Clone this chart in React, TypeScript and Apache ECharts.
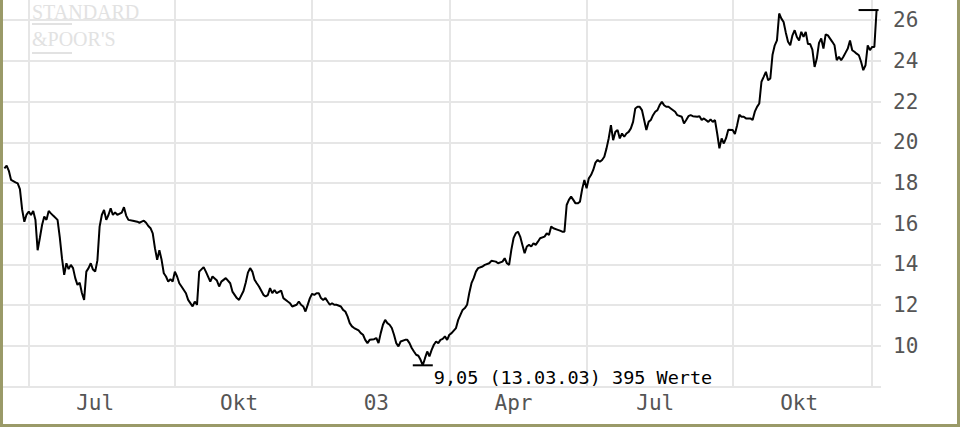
import React, { useEffect, useRef } from 'react';
import * as echarts from 'echarts';

// Trading-day position of each traced vertex (0 = first of the 395 values)
const dayIndex = [
  0, 1, 2, 3, 5, 6, 7, 8, 9, 10, 11, 12, 13, 14, 15, 16, 17, 18, 19, 20, 21, 22, 24, 25, 26, 27, 28, 29, 30,
  31, 32, 33, 34, 35, 36, 37, 38, 39, 40, 41, 42, 43, 44, 45, 46, 47, 48, 49, 50, 51, 53, 54, 55, 56, 58, 60,
  61, 62, 63, 64, 65, 66, 67, 68, 69, 70, 71, 72, 73, 74, 75, 76, 77, 78, 79, 80, 82, 83, 84, 85, 86, 87, 88,
  90, 91, 93, 94, 96, 97, 98, 100, 102, 103, 105, 106, 108, 109, 110, 111, 112, 113, 114, 115, 117, 118, 119,
  120, 121, 122, 123, 125, 126, 128, 129, 130, 132, 133, 134, 135, 136, 137, 138, 139, 140, 141, 142, 143, 144,
  145, 146, 147, 148, 149, 150, 152, 153, 154, 155, 156, 157, 158, 160, 161, 162, 163, 164, 165, 167, 168, 169,
  170, 171, 172, 173, 174, 175, 176, 177, 178, 179, 181, 182, 183, 184, 185, 186, 187, 188, 189, 190, 191, 192,
  193, 194, 195, 196, 197, 198, 199, 200, 201, 202, 204, 205, 206, 207, 208, 209, 210, 211, 212, 213, 214, 216,
  217, 219, 220, 222, 223, 225, 226, 227, 228, 229, 230, 231, 232, 233, 234, 235, 236, 237, 238, 239, 240, 241,
  242, 244, 245, 246, 247, 248, 250, 251, 252, 253, 254, 255, 256, 257, 258, 259, 260, 261, 262, 263, 264, 265,
  266, 267, 268, 269, 270, 271, 272, 273, 274, 275, 276, 277, 278, 279, 280, 281, 282, 283, 284, 285, 286, 287,
  288, 289, 290, 291, 292, 293, 294, 295, 296, 297, 298, 299, 300, 301, 303, 304, 306, 307, 308, 309, 310, 311,
  313, 314, 315, 316, 318, 319, 320, 321, 322, 323, 324, 325, 326, 327, 329, 330, 331, 332, 333, 334, 335, 337,
  338, 339, 340, 341, 342, 343, 344, 345, 346, 347, 348, 349, 350, 351, 352, 353, 354, 355, 356, 357, 358, 359,
  360, 361, 362, 363, 364, 365, 366, 367, 368, 369, 370, 371, 372, 373, 374, 375, 376, 377, 378, 379, 380, 381,
  382, 383, 384, 385, 386, 387, 388, 389, 390, 391, 392, 393, 394,
];

const closePrice = [
  18.72, 18.85, 18.6, 18.15, 18.03, 17.98, 17.7, 16.7, 16.1, 16.45, 16.6, 16.43, 16.63, 16.2, 14.7, 15.3, 15.94,
  16.35, 16.19, 16.63, 16.51, 16.4, 16.19, 15.34, 14.31, 13.49, 14.06, 13.77, 13.98,
  13.82, 13.33, 13.0, 13.11, 12.6, 12.26, 13.65, 13.82, 14.06, 13.75, 13.65, 14.2, 15.86, 16.43, 16.68, 16.19,
  16.43, 16.76, 16.43, 16.56, 16.43, 16.55, 16.81, 16.4, 16.19, 16.15, 16.1,
  16.05, 16.1, 16.15, 16.05, 15.89, 15.78, 15.53, 14.8, 14.23, 14.7, 14.23, 13.57, 13.41, 13.16, 13.28, 13.16,
  13.65, 13.41, 13.08, 12.92, 12.59, 12.26, 12.1, 11.94, 12.18, 12.02, 13.65,
  13.87, 13.65, 13.16, 13.41, 13.21, 12.92, 13.16, 13.33, 13.08, 12.67, 12.35, 12.26, 12.7, 13.1, 13.6, 13.82,
  13.65, 13.25, 13.08, 12.92, 12.51, 12.43, 12.5,
  12.84, 12.59, 12.75, 12.59, 12.72, 12.35, 12.18, 12.1, 11.94, 12.02, 12.18, 12.02, 11.94, 11.69, 12.02, 12.35,
  12.56, 12.51, 12.59, 12.59, 12.35, 12.26,
  12.35, 12.18, 12.02, 12.1, 12.02, 12.02, 11.94, 11.77, 11.69, 11.45, 11.12, 10.96, 10.88, 10.76, 10.63, 10.55,
  10.3, 10.14, 10.3, 10.33, 10.39, 10.14,
  10.63, 11.04, 11.28, 11.12, 11.04, 10.88, 10.55, 10.14, 9.98, 10.22, 10.3, 10.3, 10.14, 9.9, 9.73, 9.57, 9.52,
  9.32, 9.05, 9.4, 9.73, 9.49,
  9.81, 10.06, 10.22, 10.14, 10.3, 10.35, 10.47, 10.3, 10.55, 10.63, 10.88, 11.28, 11.53, 11.77, 11.86, 12.02,
  12.6, 13.08, 13.33, 13.65, 13.82, 13.9,
  13.98, 14.06, 14.18, 14.14, 14.06, 14.14, 14.31, 14.06, 13.98, 14.72, 15.29, 15.53, 15.61, 15.37, 14.96, 14.55,
  14.88, 14.96, 14.88, 15.04, 14.96, 15.12,
  15.29, 15.37, 15.53, 15.45, 15.86, 15.78, 15.7, 15.66, 15.61, 15.61, 16.92, 17.17, 17.33, 17.17, 17.0, 17.0,
  17.08, 17.7, 18.15, 17.74, 18.23, 18.39,
  18.64, 19.0, 19.13, 19.04, 19.13, 19.29, 19.7, 20.2, 20.84, 20.1, 20.51, 20.6, 20.19, 20.43, 20.27, 20.43, 20.51,
  20.68, 21.0, 21.66, 21.74, 21.74,
  21.58, 21.09, 20.6, 21.0, 21.09, 21.33, 21.5, 21.58, 21.82, 21.98, 21.82, 21.74, 21.74, 21.66, 21.5, 21.33,
  21.25, 20.92, 21.09, 21.28, 21.33, 21.28,
  21.25, 21.28, 21.09, 21.17, 21.0, 21.12, 21.0, 21.09, 20.43, 19.7, 20.19, 19.94, 20.2, 20.62, 20.6, 20.4, 20.84,
  21.35, 21.25, 21.25, 21.17, 21.17,
  21.09, 21.5, 21.74, 21.9, 22.97, 23.21, 23.46, 23.05, 23.13, 24.3, 24.76, 25.0, 26.32, 26.07, 25.9, 25.38, 24.93,
  24.76, 25.25, 25.5, 25.17, 25.0,
  25.42, 25.17, 25.42, 24.82, 24.82, 24.55, 23.7, 24.11, 24.88, 25.09, 24.6, 25.3, 25.25, 25.09, 24.93, 24.76,
  24.03, 24.19, 24.03, 24.2, 24.4, 24.6,
  25.0, 24.52, 24.44, 24.35, 24.27, 23.95, 23.54, 23.78, 24.76, 24.52, 24.68, 24.68, 26.49,
];

// Quarter boundaries (vertical grid lines) and quarter labels, in trading days
const quarterStartDay = [11, 77, 139, 201, 263, 329, 392];
const quarterLabelDay = [41, 106, 168, 230, 294, 359];
const quarterLabels = ['Jul', 'Okt', '03', 'Apr', 'Jul', 'Okt'];

const priceAxisMin = 8;
const priceAxisMax = 28;
const priceAxisStep = 2;

const minDate = '13.03.03';
const valueCount = 395;

export default function App() {
  const ref = useRef<HTMLDivElement>(null);

  useEffect(() => {
    if (!ref.current) return;
    const chart = echarts.init(ref.current, null, { renderer: 'svg' });

    const points = dayIndex.map((d, i) => [d, closePrice[i]]);
    const minI = closePrice.indexOf(Math.min(...closePrice));
    const maxI = closePrice.indexOf(Math.max(...closePrice));
    const gridColor = '#e6e6e6';
    const axisTextColor = '#555555';
    const logoColor = '#e2e2e2';
    const frameColor = '#9a9a68';

    const minText = `${closePrice[minI].toFixed(2).replace('.', ',')} (${minDate}) ${valueCount} Werte`;

    chart.setOption({
      animation: false,
      backgroundColor: '#ffffff',
      grid: {
        left: 0,
        right: 79,
        top: -20.7,
        bottom: 43.3,
        containLabel: false,
        outerBoundsMode: 'none',
      },
      xAxis: {
        type: 'value',
        min: -2,
        max: 396,
        axisLine: { show: false },
        axisTick: { show: false, customValues: quarterStartDay },
        splitLine: { show: true, lineStyle: { color: gridColor, width: 2 } },
        axisLabel: {
          show: true,
          customValues: quarterLabelDay,
          formatter: (v: number) => {
            const k = quarterLabelDay.indexOf(Math.round(v));
            return k >= 0 ? quarterLabels[k] : '';
          },
          color: axisTextColor,
          fontFamily: 'DejaVu Sans Mono',
          fontSize: 21,
          margin: 6,
        },
      },
      yAxis: {
        type: 'value',
        position: 'right',
        min: priceAxisMin,
        max: priceAxisMax,
        interval: priceAxisStep,
        axisLine: { show: false },
        axisTick: { show: false },
        splitLine: { show: true, lineStyle: { color: gridColor, width: 2 } },
        axisLabel: {
          color: axisTextColor,
          fontFamily: 'DejaVu Sans Mono',
          fontSize: 21,
          margin: 12,
          formatter: (v: number) => (v === priceAxisMin || v === priceAxisMax ? '' : String(v)),
        },
      },
      series: [
        {
          type: 'line',
          data: points,
          showSymbol: false,
          symbol: 'none',
          lineStyle: { color: '#000000', width: 2 },
          z: 5,
          markPoint: {
            silent: true,
            animation: false,
            data: [
              {
                coord: [dayIndex[minI], closePrice[minI]],
                symbol: 'rect',
                symbolSize: [20, 2],
                itemStyle: { color: '#000000' },
                label: {
                  show: true,
                  formatter: () => minText,
                  position: [21, 4],
                  align: 'left',
                  verticalAlign: 'top',
                  color: '#000000',
                  fontFamily: 'DejaVu Sans Mono',
                  fontSize: 18.5,
                },
              },
              {
                coord: [dayIndex[maxI], closePrice[maxI]],
                symbol: 'rect',
                symbolSize: [20, 2],
                symbolOffset: [-8, 0],
                itemStyle: { color: '#000000' },
                label: { show: false },
              },
            ],
          },
        },
      ],
      graphic: [
        {
          type: 'text',
          left: 32,
          top: 2,
          z: 1,
          style: {
            text: 'STANDARD',
            fill: logoColor,
            font: '20px "Liberation Serif", serif',
          },
        },
        {
          type: 'rect',
          shape: { x: 32, y: 23, width: 40, height: 2 },
          style: { fill: logoColor },
          z: 1,
        },
        {
          type: 'rect',
          shape: { x: 32, y: 52, width: 40, height: 2 },
          style: { fill: logoColor },
          z: 1,
        },
        {
          type: 'text',
          left: 32,
          top: 29,
          z: 1,
          style: {
            text: "&POOR'S",
            fill: logoColor,
            font: '20px "Liberation Serif", serif',
          },
        },
        {
          type: 'rect',
          shape: { x: 0, y: 0, width: 3, height: 427 },
          style: { fill: frameColor },
          z: 10,
        },
        {
          type: 'rect',
          shape: { x: 0, y: 424, width: 960, height: 3 },
          style: { fill: frameColor },
          z: 10,
        },
        {
          type: 'rect',
          shape: { x: 957, y: 0, width: 3, height: 427 },
          style: { fill: frameColor },
          z: 10,
        },
      ],
    });

    return () => chart.dispose();
  }, []);

  return (
    <div
      ref={ref}
      style={{ position: 'fixed', left: 0, top: 0, width: 960, height: 430, background: '#ffffff' }}
    />
  );
}
